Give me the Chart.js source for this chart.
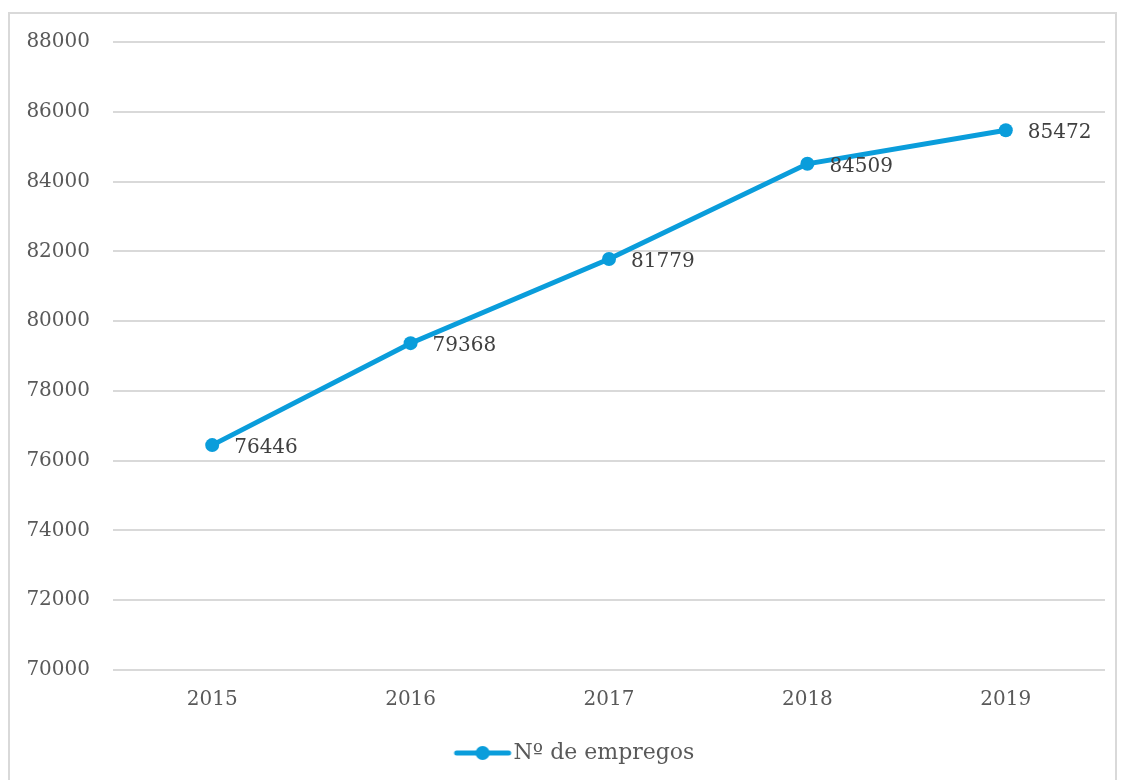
<!DOCTYPE html>
<html>
<head>
<meta charset="utf-8">
<script src="https://cdn.jsdelivr.net/npm/chart.js@4.4.1/dist/chart.umd.min.js"></script>
<style>
  html, body { margin: 0; padding: 0; background: #fff; overflow: hidden; }
  #wrap { position: relative; width: 1121px; height: 780px; }
  #frame { position: absolute; left: 8px; top: 12px; width: 1109px; height: 800px; border: 2px solid #d9d9d9; box-sizing: border-box; pointer-events: none; }
  canvas { position: absolute; left: 0; top: 0; }
</style>
</head>
<body>
<div id="wrap">
  <canvas id="c" width="1121" height="780"></canvas>
  <div id="frame"></div>
</div>
<script>
const categories = ["2015", "2016", "2017", "2018", "2019"];
const empregos = [76446, 79368, 81779, 84509, 85472];
const seriesName = "N\u00BA de empregos";
const yMin = 70000, yMax = 88000, yStep = 2000;

const FONT = "'DejaVu Serif', 'Liberation Serif', serif";
const LINE = "#0a9ddb";

// legend marker: line with circle
const marker = document.createElement('canvas');
marker.width = 60; marker.height = 16;
(function () {
  const g = marker.getContext('2d');
  g.strokeStyle = LINE; g.lineWidth = 5; g.lineCap = 'round';
  g.beginPath(); g.moveTo(4, 8); g.lineTo(56, 8); g.stroke();
  g.fillStyle = LINE; g.beginPath(); g.arc(30, 8, 7, 0, Math.PI * 2); g.fill();
})();

const labelPlugin = {
  id: 'valueLabels',
  afterLayout(chart) {
    if (chart.legend) { chart.legend.left += 52; }
  },
  afterDatasetsDraw(chart) {
    const ctx = chart.ctx;
    const meta = chart.getDatasetMeta(0);
    ctx.save();
    ctx.font = "20px " + FONT;
    ctx.fillStyle = "#404040";
    ctx.textAlign = "left";
    ctx.textBaseline = "middle";
    meta.data.forEach((pt, i) => {
      ctx.fillText(String(chart.data.datasets[0].data[i]), pt.x + 22, pt.y + 3);
    });
    ctx.restore();
  }
};

new Chart(document.getElementById('c'), {
  type: 'line',
  data: {
    labels: categories,
    datasets: [{
      label: seriesName,
      data: empregos,
      borderColor: LINE,
      backgroundColor: LINE,
      borderWidth: 5,
      pointRadius: 7,
      pointHoverRadius: 7,
      pointBackgroundColor: LINE,
      pointBorderWidth: 0,
      tension: 0,
      pointStyle: 'circle'
    }]
  },
  options: {
    responsive: false,
    animation: false,
    events: [],
    layout: { padding: { left: 0, right: 16, top: 42, bottom: 6 } },
    scales: {
      x: {
        offset: true,
        grid: { display: false, drawTicks: false },
        border: { display: false },
        ticks: { color: "#595959", font: { family: FONT, size: 20 }, padding: 18, maxRotation: 0 },
        afterFit(scale) { scale.height = 62; }
      },
      y: {
        min: yMin, max: yMax,
        grid: { color: "#d9d9d9", lineWidth: 2, drawTicks: false },
        border: { display: false },
        ticks: {
          stepSize: yStep,
          color: "#595959",
          font: { family: FONT, size: 20 },
          padding: 23,
          callback: v => String(v)
        },
        afterFit(scale) { scale.width = 113; }
      }
    },
    plugins: {
      legend: {
        position: 'bottom',
        labels: {
          usePointStyle: true,
          pointStyle: marker,
          pointStyleWidth: 40,
          boxHeight: 16,
          padding: 10,
          color: "#595959",
          font: { family: FONT, size: 22 }
        }
      },
      tooltip: { enabled: false }
    }
  },
  plugins: [labelPlugin]
});
</script>
</body>
</html>
